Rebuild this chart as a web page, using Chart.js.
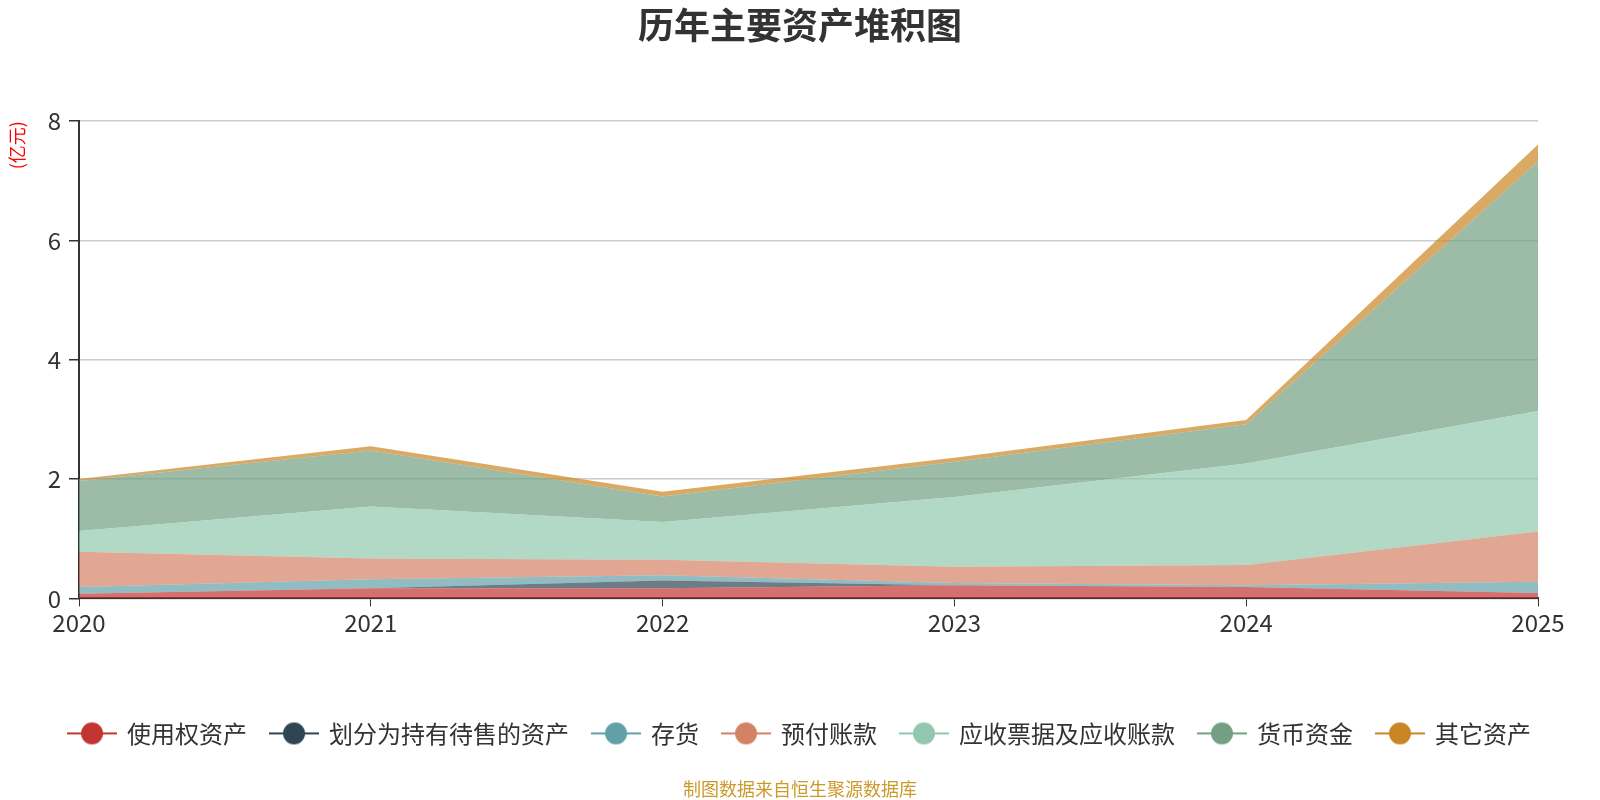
<!DOCTYPE html>
<html>
<head>
<meta charset="utf-8">
<script src="https://cdn.jsdelivr.net/npm/chart.js@4/dist/chart.umd.min.js"></script>
<style>
  html, body { margin: 0; padding: 0; background: #fff; }
  #wrap { width: 1600px; height: 800px; }
</style>
</head>
<body>
<div id="wrap"><canvas id="assetChart" width="1600" height="800"></canvas></div>
<script>
// Categories (years)
const years = ['2020', '2021', '2022', '2023', '2024', '2025'];

// Series values, 亿元, stacked bottom to top
const rouAssets = [0.08, 0.17, 0.17, 0.22, 0.19, 0.09];      // 使用权资产
const heldForSale = [0, 0, 0.13, 0, 0, 0];                    // 划分为持有待售的资产
const inventory = [0.11, 0.15, 0.09, 0.04, 0.03, 0.19];       // 存货
const prepayments = [0.59, 0.35, 0.26, 0.27, 0.34, 0.84];     // 预付账款
const receivables = [0.35, 0.87, 0.63, 1.17, 1.70, 2.02];     // 应收票据及应收账款
const cash = [0.84, 0.94, 0.43, 0.59, 0.66, 4.19];            // 货币资金
const otherAssets = [0.03, 0.07, 0.08, 0.07, 0.07, 0.28];     // 其它资产

const seriesNames = ['使用权资产', '划分为持有待售的资产', '存货', '预付账款', '应收票据及应收账款', '货币资金', '其它资产'];
const seriesData = [rouAssets, heldForSale, inventory, prepayments, receivables, cash, otherAssets];
const seriesColors = ['#c23531', '#2f4554', '#61a0a8', '#d48265', '#91c7ae', '#749f83', '#ca8622'];

// Y ticks
const yMax = 8;
const yStep = 2;

const FONT = "'Noto Sans CJK SC', 'Microsoft YaHei', sans-serif";

function hexToRgba(hex, a) {
  const n = parseInt(hex.slice(1), 16);
  return `rgba(${(n >> 16) & 255}, ${(n >> 8) & 255}, ${n & 255}, ${a})`;
}

// legend icon: line with a circle in the middle
function makeIcon(color) {
  const c = document.createElement('canvas');
  c.width = 50;
  c.height = 24;
  const g = c.getContext('2d');
  g.strokeStyle = color;
  g.lineWidth = 2;
  g.beginPath();
  g.moveTo(0, 12);
  g.lineTo(50, 12);
  g.stroke();
  g.fillStyle = color;
  g.beginPath();
  g.arc(25, 12, 11, 0, Math.PI * 2);
  g.fill();
  return c;
}

const datasets = seriesNames.map((name, i) => ({
  label: name,
  data: seriesData[i],
  borderColor: 'rgba(0,0,0,0)',
  backgroundColor: hexToRgba(seriesColors[i], 0.7),
  borderWidth: 0,
  fill: i === 0 ? 'origin' : '-1',
  tension: 0,
  pointRadius: 0,
  pointHoverRadius: 0,
  pointStyle: makeIcon(seriesColors[i])
}));

new Chart(document.getElementById('assetChart'), {
  type: 'line',
  data: { labels: years, datasets },
  options: {
    responsive: false,
    animation: false,
    layout: { padding: 0 },
    plugins: {
      title: {
        display: true,
        text: '历年主要资产堆积图',
        color: '#333',
        font: { family: FONT, size: 36, weight: 'bold' },
        padding: { top: 4, bottom: 74 }
      },
      subtitle: {
        display: true,
        position: 'bottom',
        text: '制图数据来自恒生聚源数据库',
        color: '#cc9a2b',
        font: { family: FONT, size: 18 },
        padding: { top: 23, bottom: 0 }
      },
      legend: {
        position: 'bottom',
        labels: {
          usePointStyle: true,
          pointStyleWidth: 46,
          padding: 24,
          color: '#333',
          font: { family: FONT, size: 24 }
        }
      },
      tooltip: { enabled: false }
    },
    scales: {
      x: {
        stacked: true,
        offset: false,
        border: { display: true, color: '#333', width: 2 },
        grid: { display: true, drawOnChartArea: false, drawTicks: true, tickLength: 8, tickColor: '#333' },
        ticks: { color: '#333', padding: 2, maxRotation: 0, font: { family: FONT, size: 24 } },
        afterFit: (scale) => { scale.height = 99; }
      },
      y: {
        stacked: true,
        min: 0,
        max: yMax,
        border: { display: true, color: '#333', width: 2 },
        grid: { color: '#ccc', lineWidth: 1.5, tickLength: 10, tickColor: '#333' },
        ticks: { stepSize: yStep, color: '#333', padding: 8, font: { family: FONT, size: 24 } },
        title: {
          display: true,
          text: '(亿元)',
          color: 'red',
          align: 'end',
          padding: { top: 6, bottom: 0 },
          font: { family: FONT, size: 18 }
        },
        afterFit: (scale) => { scale.width = 79; }
      },
      // empty right-hand axis that keeps room for the last x label
      yRight: {
        position: 'right',
        display: true,
        min: 0,
        max: yMax,
        border: { display: false },
        grid: { drawOnChartArea: false, drawTicks: false },
        ticks: { display: false },
        afterFit: (scale) => { scale.width = 62; }
      }
    }
  }
});
</script>
</body>
</html>
